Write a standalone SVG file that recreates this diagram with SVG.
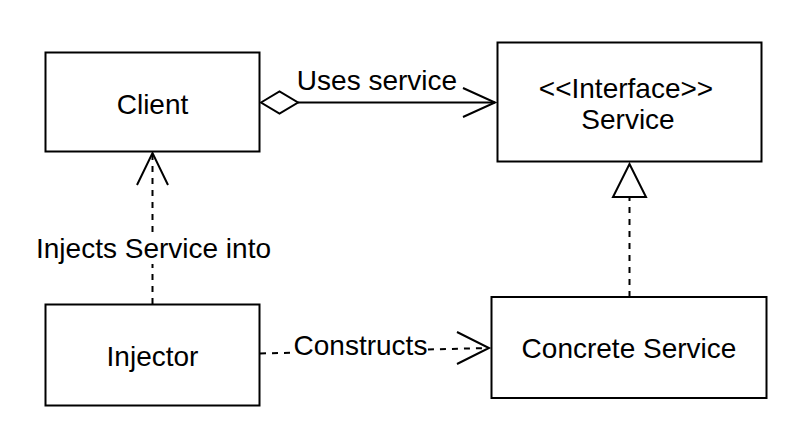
<svg xmlns="http://www.w3.org/2000/svg" width="804" height="434" viewBox="0 0 804 434">
<style>
.box{fill:#fff;stroke:#000;stroke-width:2}
.t{font-family:"Liberation Sans",Arial,Helvetica,sans-serif;font-size:28px;fill:#000;text-anchor:middle}
.ln{fill:none;stroke:#000;stroke-width:2}
.dash{stroke-dasharray:6 6}
</style>
<rect width="804" height="434" fill="#fff"/>
<g id="connectors">
  <g id="uses">
    <line class="ln" x1="298" y1="102.5" x2="495" y2="102.5"/>
    <polygon points="261,102.5 279.5,91.5 298,102.5 279.5,113.5" fill="#fff" stroke="#000" stroke-width="2"/>
    <polyline class="ln" points="463,88 495,102.5 463,117"/>
    <text class="t" x="377" y="90">Uses service</text>
  </g>
  <g id="injects">
    <line class="ln dash" x1="152.5" y1="304" x2="152.5" y2="154"/>
    <polyline class="ln" points="137,185 152.5,153 168,185"/>
    <rect x="36" y="234" width="236" height="30" fill="#fff"/>
    <text class="t" x="153.5" y="258">Injects Service into</text>
  </g>
  <g id="constructs">
    <line class="ln dash" x1="260" y1="353.5" x2="489" y2="348"/>
    <polyline class="ln" points="457,332 489,348 457,364"/>
    <rect x="296" y="335" width="129" height="27" fill="#fff"/>
    <text class="t" x="360.5" y="355">Constructs</text>
  </g>
  <g id="implements">
    <line class="ln dash" x1="629.5" y1="297" x2="629.5" y2="197"/>
    <polygon points="629.5,164 646,197 613,197" fill="#fff" stroke="#000" stroke-width="2"/>
  </g>
</g>
<g id="client">
  <rect class="box" x="45.5" y="52.5" width="214" height="99"/>
  <text class="t" x="152.5" y="114">Client</text>
</g>
<g id="service">
  <rect class="box" x="497.5" y="42.5" width="264" height="119"/>
  <text class="t" x="626" y="97.5">&lt;&lt;Interface&gt;&gt;</text>
  <text class="t" x="628" y="128.5">Service</text>
</g>
<g id="injector">
  <rect class="box" x="45.5" y="304.5" width="214" height="101"/>
  <text class="t" x="152.5" y="366">Injector</text>
</g>
<g id="concrete">
  <rect class="box" x="491.5" y="297" width="275" height="101"/>
  <text class="t" x="629" y="358">Concrete Service</text>
</g>
</svg>
